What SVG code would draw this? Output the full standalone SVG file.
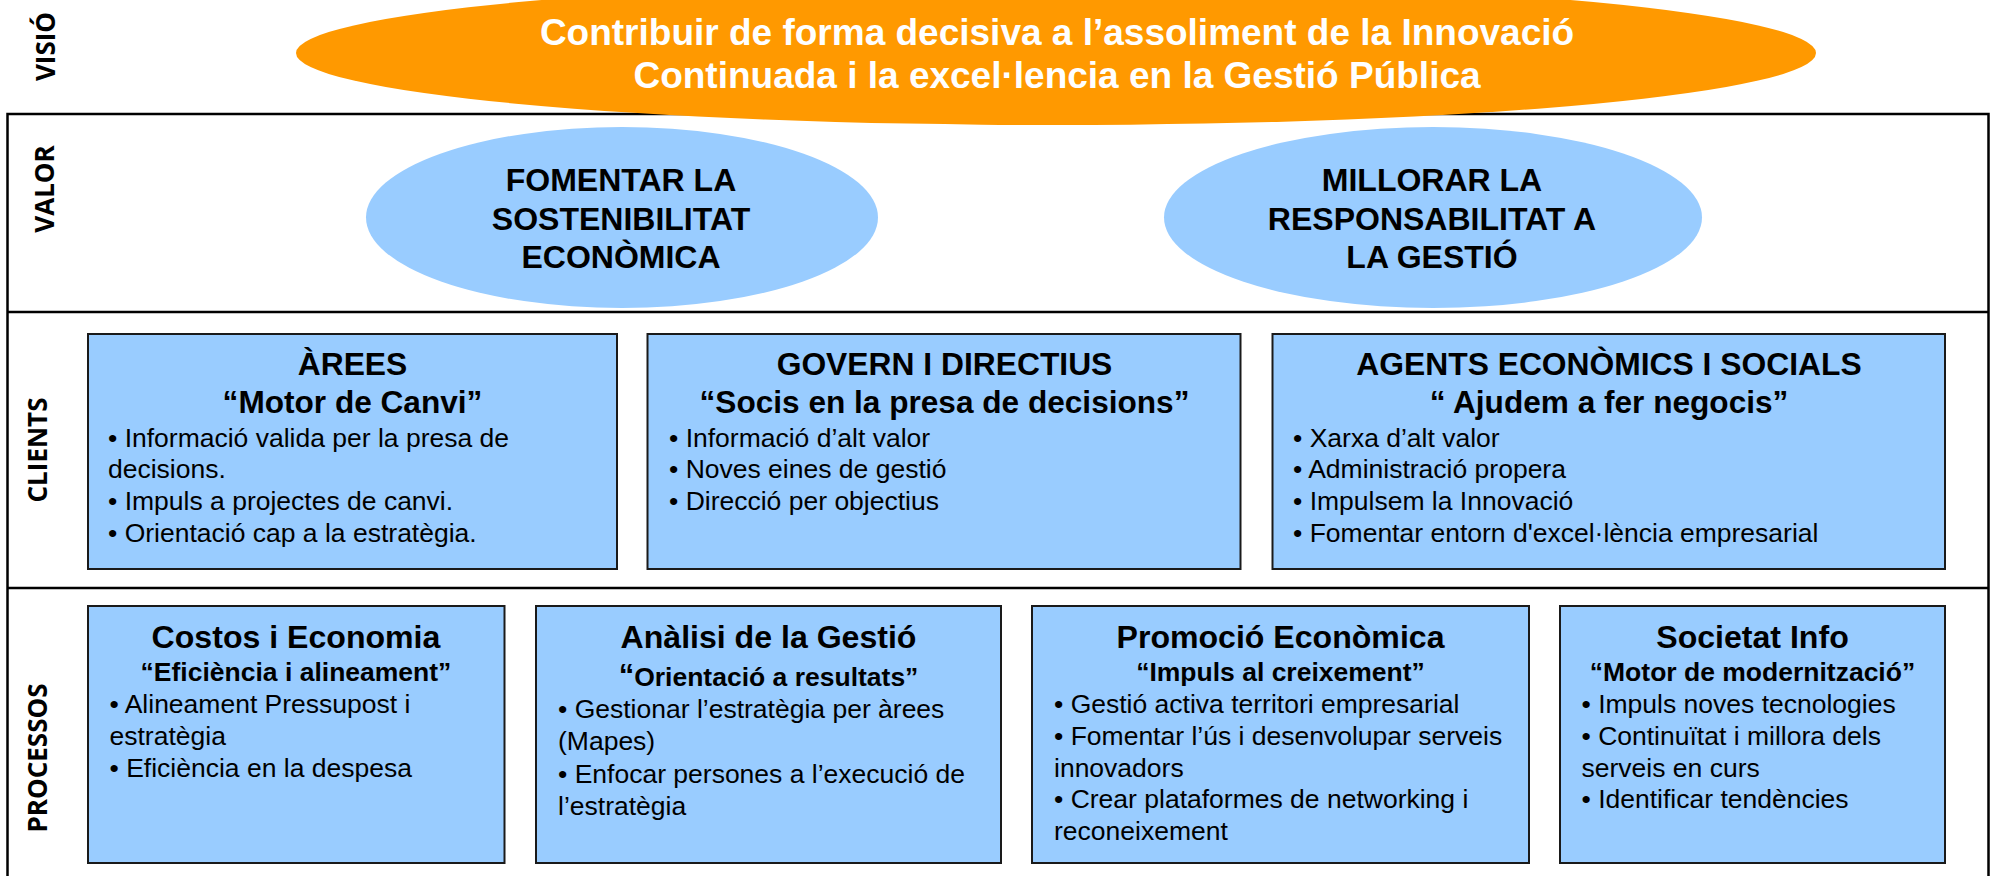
<svg xmlns="http://www.w3.org/2000/svg" width="1993" height="876" viewBox="0 0 1993 876">
<style>
.frame{fill:none;stroke:#000;stroke-width:2.5}
.sep{stroke:#000;stroke-width:2.5}
.box{fill:#99CCFF;stroke:#1a1a1a;stroke-width:2}
.lbl{font-family:"Open Sans","Noto Sans",sans-serif;font-weight:bold;font-size:26px;fill:#000;text-anchor:middle}
.vis{font-family:"Liberation Sans",Arial,sans-serif;font-weight:bold;font-size:37px;fill:#fff;text-anchor:middle}
.val{font-family:"Liberation Sans",Arial,sans-serif;font-weight:bold;font-size:32px;fill:#000;text-anchor:middle}
.ct{font-family:"Liberation Sans",Arial,sans-serif;font-weight:bold;font-size:31.8px;fill:#000;text-anchor:middle}
.cs{font-family:"Liberation Sans",Arial,sans-serif;font-weight:bold;font-size:31.6px;fill:#000;text-anchor:middle}
.pt{font-family:"Liberation Sans",Arial,sans-serif;font-weight:bold;font-size:32.1px;fill:#000;text-anchor:middle}
.ps{font-family:"Liberation Sans",Arial,sans-serif;font-weight:bold;font-size:26.5px;fill:#000;text-anchor:middle}
.b{font-family:"Liberation Sans",Arial,sans-serif;font-size:26.5px;fill:#000}
</style>
<rect width="1993" height="876" fill="#fff"/>
<g id="frame">
<rect class="frame" x="7.5" y="114" width="1981" height="765"/>
<line class="sep" x1="7.5" y1="312" x2="1988.5" y2="312"/>
<line class="sep" x1="7.5" y1="588" x2="1988.5" y2="588"/>
</g>
<g id="labels">
<text class="lbl" transform="rotate(-90 55 46.5)" x="55" y="46.5">VISIÓ</text>
<text class="lbl" transform="rotate(-90 54 189)" x="54" y="189">VALOR</text>
<text class="lbl" transform="rotate(-90 47 450)" x="47" y="450">CLIENTS</text>
<text class="lbl" transform="rotate(-90 47 758)" x="47" y="758">PROCESSOS</text>
</g>
<g id="visio">
<ellipse cx="1056" cy="53" rx="760" ry="72" fill="#FF9900"/>
<text class="vis" x="1057" y="44.5">Contribuir de forma decisiva a l’assoliment de la Innovació</text>
<text class="vis" x="1057" y="88">Continuada i la excel·lencia en la Gestió Pública</text>
</g>
<g id="valor1">
<ellipse cx="622" cy="217.5" rx="256" ry="90.5" fill="#99CCFF"/>
<text class="val" x="621" y="190.7">FOMENTAR LA</text>
<text class="val" x="621" y="229.5">SOSTENIBILITAT</text>
<text class="val" x="621" y="267.7">ECONÒMICA</text>
</g>
<g id="valor2">
<ellipse cx="1433" cy="217.5" rx="269" ry="90.5" fill="#99CCFF"/>
<text class="val" x="1432" y="190.7">MILLORAR LA</text>
<text class="val" x="1432" y="229.5">RESPONSABILITAT A</text>
<text class="val" x="1432" y="267.7">LA GESTIÓ</text>
</g>
<g id="client1">
<rect class="box" x="88" y="334" width="529" height="235"/>
<text class="ct" x="352.5" y="375">ÀREES</text>
<text class="cs" x="352.5" y="412.7">“Motor de Canvi”</text>
<text class="b" x="108" y="446.7">• Informació valida per la presa de</text>
<text class="b" x="108" y="478.3">decisions.</text>
<text class="b" x="108" y="510">• Impuls a projectes de canvi.</text>
<text class="b" x="108" y="541.7">• Orientació cap a la estratègia.</text>
</g>
<g id="client2">
<rect class="box" x="647.5" y="334" width="593" height="235"/>
<text class="ct" x="944.5" y="375">GOVERN I DIRECTIUS</text>
<text class="cs" x="944.5" y="412.7">“Socis en la presa de decisions”</text>
<text class="b" x="669" y="446.7">• Informació d’alt valor</text>
<text class="b" x="669" y="478.3">• Noves eines de gestió</text>
<text class="b" x="669" y="510">• Direcció per objectius</text>
</g>
<g id="client3">
<rect class="box" x="1272.5" y="334" width="672.5" height="235"/>
<text class="ct" x="1609" y="375">AGENTS ECONÒMICS I SOCIALS</text>
<text class="cs" x="1609" y="412.7">“ Ajudem a fer negocis”</text>
<text class="b" x="1293" y="446.7">• Xarxa d’alt valor</text>
<text class="b" x="1293" y="478.3">• Administració propera</text>
<text class="b" x="1293" y="510">• Impulsem la Innovació</text>
<text class="b" x="1293" y="541.7">• Fomentar entorn d'excel·lència empresarial</text>
</g>
<g id="proc1">
<rect class="box" x="88" y="606" width="416.5" height="257"/>
<text class="pt" x="296" y="647.7">Costos i Economia</text>
<text class="ps" x="296" y="680.5">“Eficiència i alineament”</text>
<text class="b" x="109.5" y="713.3">• Alineament Pressupost i</text>
<text class="b" x="109.5" y="745">estratègia</text>
<text class="b" x="109.5" y="776.7">• Eficiència en la despesa</text>
</g>
<g id="proc2">
<rect class="box" x="536" y="606" width="465" height="257"/>
<text class="pt" x="768.5" y="647.7">Anàlisi de la Gestió</text>
<text class="ps" x="768.5" y="686"><tspan font-size="31">“</tspan>Orientació a resultats”</text>
<text class="b" x="558" y="718.3">• Gestionar l’estratègia per àrees</text>
<text class="b" x="558" y="750">(Mapes)</text>
<text class="b" x="558" y="783.3">• Enfocar persones a l’execució de</text>
<text class="b" x="558" y="815">l’estratègia</text>
</g>
<g id="proc3">
<rect class="box" x="1032" y="606" width="497" height="257"/>
<text class="pt" x="1280.5" y="647.7">Promoció Econòmica</text>
<text class="ps" x="1280.5" y="680.5">“Impuls al creixement”</text>
<text class="b" x="1054" y="713.3">• Gestió activa territori empresarial</text>
<text class="b" x="1054" y="745">• Fomentar l’ús i desenvolupar serveis</text>
<text class="b" x="1054" y="776.7">innovadors</text>
<text class="b" x="1054" y="808.3">• Crear plataformes de networking i</text>
<text class="b" x="1054" y="840">reconeixement</text>
</g>
<g id="proc4">
<rect class="box" x="1560" y="606" width="385" height="257"/>
<text class="pt" x="1752.5" y="647.7">Societat Info</text>
<text class="ps" x="1752.5" y="680.5">“Motor de modernització”</text>
<text class="b" x="1581.5" y="713.3">• Impuls noves tecnologies</text>
<text class="b" x="1581.5" y="745">• Continuïtat i millora dels</text>
<text class="b" x="1581.5" y="776.7">serveis en curs</text>
<text class="b" x="1581.5" y="808.3">• Identificar tendències</text>
</g>
<g id="connectors"/>
</svg>
